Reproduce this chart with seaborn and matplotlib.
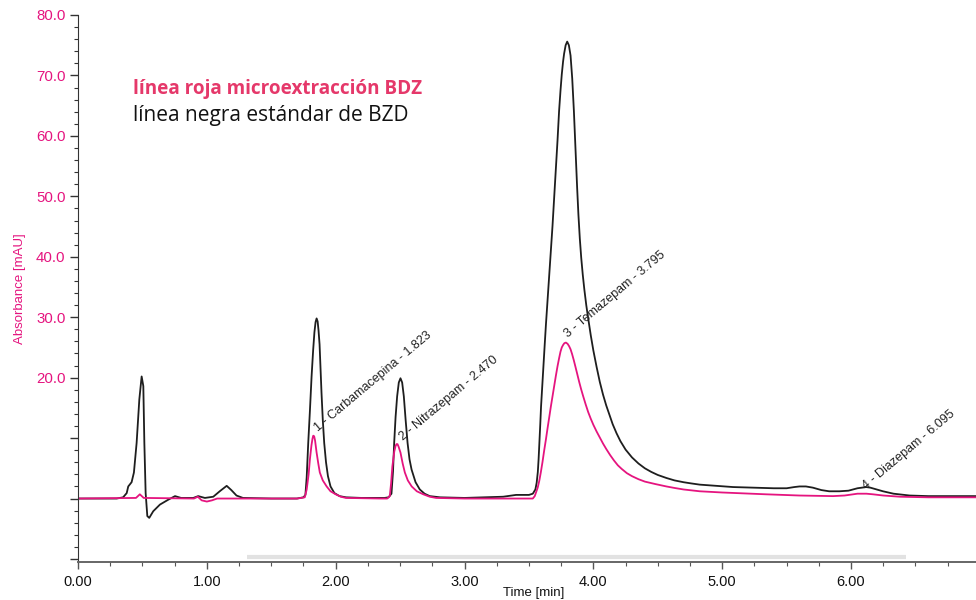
import matplotlib
matplotlib.use("Agg")
import matplotlib.pyplot as plt
import matplotlib.ticker as mticker
import seaborn as sns
import pandas as pd

# ---- data ----
black_t = [0.00, 0.30, 0.35, 0.378, 0.39, 0.416, 0.434, 0.455, 0.476, 0.494, 0.507, 0.515, 0.525,
           0.538, 0.553, 0.584, 0.636, 0.70, 0.753, 0.80, 0.895, 0.933, 0.985, 1.05, 1.10, 1.154,
           1.19, 1.23, 1.28, 1.50, 1.70, 1.75, 1.765, 1.775, 1.787, 1.80, 1.813, 1.825, 1.835,
           1.844, 1.852, 1.860, 1.867, 1.875, 1.89, 1.90, 1.911, 1.925, 1.94, 1.96, 1.99, 2.03,
           2.08, 2.20, 2.38, 2.41, 2.433, 2.445, 2.454, 2.465, 2.477, 2.49, 2.503, 2.516, 2.529,
           2.543, 2.558, 2.573, 2.589, 2.62, 2.653, 2.69, 2.73, 2.81, 3.00, 3.30, 3.40, 3.50,
           3.53, 3.55, 3.56, 3.569, 3.575, 3.582, 3.588, 3.594, 3.603, 3.613, 3.622, 3.632,
           3.645, 3.658, 3.67, 3.683, 3.696, 3.709, 3.722, 3.734, 3.745, 3.755, 3.765, 3.773,
           3.785, 3.797, 3.81, 3.823, 3.836, 3.849, 3.862, 3.874, 3.884, 3.895, 3.906, 3.918,
           3.93, 3.945, 3.96, 3.98, 4.00, 4.025, 4.05, 4.075, 4.10, 4.127, 4.15, 4.18, 4.21,
           4.25, 4.30, 4.35, 4.40, 4.45, 4.50, 4.567, 4.63, 4.70, 4.76, 4.826, 4.95, 5.084,
           5.25, 5.40, 5.50, 5.56, 5.60, 5.65, 5.704, 5.77, 5.83, 5.91, 5.98, 6.05, 6.118,
           6.15, 6.20, 6.248, 6.33, 6.455, 6.60, 6.80, 6.97]
black_y = [0.0, 0.0, 0.2, 0.9, 2.0, 2.7, 4.3, 9.2, 16.4, 20.2, 18.6, 9.2, 0.9,
           -2.9, -3.2, -2.1, -1.0, -0.2, 0.4, 0.1, 0.1, 0.4, 0.1, 0.3, 1.2, 2.1,
           1.4, 0.5, 0.1, 0.0, 0.0, 0.2, 0.6, 3.5, 9.2, 14.5, 20.2, 24.5, 27.5,
           29.2, 29.8, 29.3, 27.8, 25.5, 17.5, 13.0, 9.2, 6.0, 3.7, 2.0, 0.9, 0.4,
           0.2, 0.1, 0.1, 0.2, 0.8, 4.5, 9.2, 13.5, 16.9, 19.2, 19.9, 19.2, 16.9,
           13.0, 9.2, 6.5, 4.8, 2.7, 1.5, 0.8, 0.4, 0.2, 0.1, 0.3, 0.6, 0.6,
           0.8, 1.5, 2.6, 4.4, 6.5, 9.5, 12.3, 15.2, 18.5, 22.0, 25.3, 28.8,
           32.9, 37.0, 41.0, 45.1, 49.8, 54.5, 59.3, 64.1, 67.5, 70.2, 72.3, 73.6,
           75.0, 75.6, 75.0, 73.3, 69.5, 64.1, 57.5, 51.5, 47.0, 43.0, 39.8, 37.0,
           34.6, 32.0, 29.8, 27.0, 24.5, 21.8, 19.3, 17.2, 15.4, 13.7, 12.3, 10.8, 9.5,
           8.1, 6.8, 5.8, 5.0, 4.4, 3.9, 3.4, 3.0, 2.7, 2.5, 2.3, 2.1, 1.9,
           1.8, 1.7, 1.7, 1.9, 2.0, 2.0, 1.8, 1.4, 1.2, 1.2, 1.3, 1.7, 1.9,
           1.8, 1.5, 1.2, 0.8, 0.5, 0.4, 0.4, 0.4]

pink_t = [0.00, 0.45, 0.48, 0.51, 0.90, 0.93, 0.96, 1.00, 1.04, 1.08, 1.70, 1.76, 1.775,
          1.79, 1.80, 1.812, 1.82, 1.826, 1.833, 1.84, 1.852, 1.865, 1.877, 1.90, 1.93, 1.96,
          2.00, 2.04, 2.08, 2.35, 2.40, 2.42, 2.43, 2.44, 2.455, 2.465, 2.472, 2.48, 2.488,
          2.503, 2.52, 2.537, 2.56, 2.59, 2.63, 2.68, 2.73, 2.78, 3.00, 3.50, 3.53, 3.545,
          3.555, 3.568, 3.58, 3.592, 3.605, 3.618, 3.632, 3.645, 3.658, 3.67, 3.683, 3.696,
          3.709, 3.722, 3.734, 3.745, 3.755, 3.765, 3.775, 3.787, 3.80, 3.812, 3.823, 3.835,
          3.848, 3.861, 3.875, 3.89, 3.905, 3.92, 3.94, 3.96, 3.98, 4.00, 4.025, 4.05, 4.075,
          4.10, 4.13, 4.16, 4.19, 4.22, 4.26, 4.30, 4.35, 4.40, 4.48, 4.567, 4.63, 4.70,
          4.826, 5.00, 5.34, 5.60, 5.86, 5.95, 6.05, 6.12, 6.17, 6.25, 6.38, 6.60, 6.97]
pink_y = [0.0, 0.1, 0.7, 0.1, 0.0, 0.3, -0.3, -0.5, -0.3, 0.0, 0.0, 0.2, 1.5,
          4.0, 6.5, 8.8, 9.9, 10.4, 10.3, 9.6, 7.6, 5.8, 4.3, 3.0, 2.0, 1.2,
          0.7, 0.3, 0.1, 0.0, 0.0, 0.4, 2.5, 5.3, 7.8, 8.7, 9.0, 9.0, 8.6,
          7.6, 5.8, 4.3, 3.0, 2.0, 1.2, 0.7, 0.3, 0.1, 0.0, 0.0, 0.0, 0.4,
          1.0, 1.8, 2.9, 4.3, 6.0, 7.9, 9.8, 11.7, 13.5, 15.2, 16.9, 18.6,
          20.3, 21.9, 23.2, 24.3, 25.0, 25.4, 25.7, 25.8, 25.6, 25.2, 24.7, 23.9,
          22.9, 21.8, 20.6, 19.3, 18.1, 17.0, 15.6, 14.3, 13.2, 12.2, 11.1, 10.1, 9.1,
          8.2, 7.2, 6.3, 5.5, 4.9, 4.2, 3.7, 3.2, 2.8, 2.4, 2.0, 1.75, 1.5,
          1.2, 1.0, 0.7, 0.5, 0.4, 0.5, 0.8, 0.8, 0.7, 0.5, 0.3, 0.2, 0.2]

series_names = ["línea negra estándar de BZD", "línea roja microextracción BDZ"]

peak_labels = ["1 - Carbamacepina - 1.823", "2 - Nitrazepam - 2.470",
               "3 - Temazepam - 3.795", "4 - Diazepam - 6.095"]
peak_label_t = [1.86, 2.52, 3.80, 6.115]
peak_label_y = [11.0, 9.6, 26.6, 1.5]

x_ticks = [0, 1, 2, 3, 4, 5, 6]
y_ticks = [-10, 0, 10, 20, 30, 40, 50, 60, 70, 80]

# ---- style ----
PINK = "#E5147F"
LEG_PINK = "#E5386A"
BLACK = "#1e1e1e"

sns.set_style("ticks")
plt.rcParams["font.family"] = ["Liberation Sans", "DejaVu Sans"]

df = pd.concat([
    pd.DataFrame({"time": black_t, "abs": black_y, "serie": series_names[0]}),
    pd.DataFrame({"time": pink_t, "abs": pink_y, "serie": series_names[1]}),
], ignore_index=True)

fig = plt.figure(figsize=(9.76, 6.0), dpi=100)
ax = fig.add_axes([78 / 976, 1 - 562 / 600, (976 - 78) / 976, (562 - 15) / 600])

sns.lineplot(data=df, x="time", y="abs", hue="serie", hue_order=series_names,
             palette={series_names[0]: BLACK, series_names[1]: PINK},
             estimator=None, sort=False, linewidth=1.3, legend=False, ax=ax)

ax.set_xlim(0, 6.97)
ax.set_ylim(-10.5, 80)

ax.xaxis.set_major_locator(mticker.FixedLocator(x_ticks))
ax.xaxis.set_major_formatter(mticker.FormatStrFormatter("%.2f"))
ax.xaxis.set_minor_locator(mticker.MultipleLocator(0.25))
ax.yaxis.set_major_locator(mticker.FixedLocator(y_ticks))
ax.yaxis.set_major_formatter(mticker.FuncFormatter(lambda v, p: f"{v:.1f}" if v >= 20 else ""))
ax.yaxis.set_minor_locator(mticker.MultipleLocator(2))

ax.tick_params(axis="y", which="major", length=6, width=1, colors="#333333", labelcolor=PINK,
               labelsize=10.8, pad=3)
ax.tick_params(axis="y", which="minor", length=3, width=0.8, colors="#333333")
ax.tick_params(axis="x", which="major", length=5, width=1, colors="#555555", labelcolor="#111111",
               labelsize=10.5, pad=4)
ax.tick_params(axis="x", which="minor", length=3, width=0.8, colors="#555555")

for s in ["top", "right"]:
    ax.spines[s].set_visible(False)
ax.spines["left"].set_color("#333333")
ax.spines["bottom"].set_color("#666666")
ax.spines["bottom"].set_linewidth(1.4)

ax.set_ylabel("Absorbance [mAU]", color=PINK, fontsize=9.5)
ax.yaxis.set_label_coords(-0.058, 0.5)
ax.set_xlabel("Time [min]", color="#111111", fontsize=9.5)
ax.xaxis.set_label_coords(0.507, -0.046)

# faint grey band just above the time axis (as in the source export)
ax.hlines(-9.7, 1.31, 6.43, color="#e2e2e2", linewidth=3, zorder=0)

for lab, t, y in zip(peak_labels, peak_label_t, peak_label_y):
    ax.text(t, y, lab, rotation=40, rotation_mode="anchor", ha="left", va="baseline",
            fontsize=9, color="#222222")

fig.text(133 / 976, 1 - 89 / 600, series_names[1], color=LEG_PINK, fontsize=13.6,
         fontweight="bold", family=["Open Sans", "DejaVu Sans"], va="center", ha="left")
fig.text(133 / 976, 1 - 115 / 600, series_names[0], color="#111111", fontsize=15,
         family=["Open Sans", "DejaVu Sans"], va="center", ha="left")

fig.savefig("out.png", dpi=100)
